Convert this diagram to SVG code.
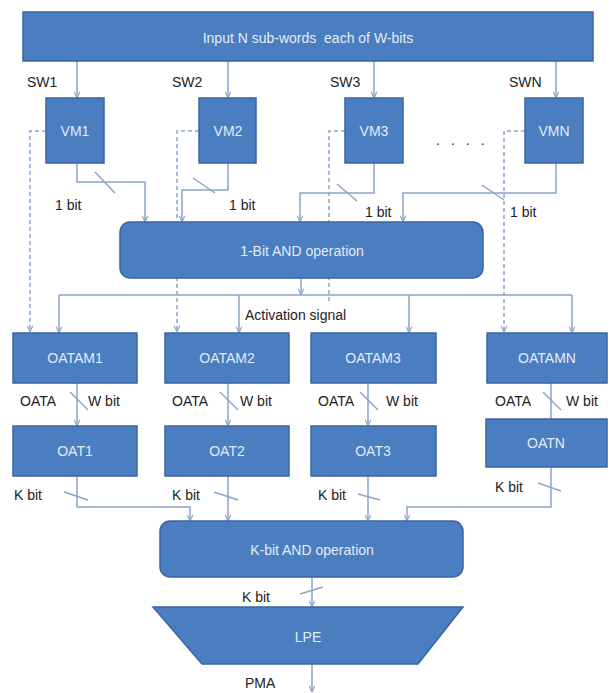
<svg xmlns="http://www.w3.org/2000/svg" width="610" height="693" viewBox="0 0 610 693">
<defs>
<style>
.box{fill:#4A7EC0;stroke:#3B65A0;stroke-width:1.5}
.bt{font-family:"Liberation Sans",Arial,sans-serif;font-size:14px;fill:#E4EBF6;text-anchor:middle}
.lb{font-family:"Liberation Sans",Arial,sans-serif;font-size:14px;fill:#222}
.ln{fill:none;stroke:#8AA5CB;stroke-width:1.5}
.ds{fill:none;stroke:#8AA5CB;stroke-width:1.5;stroke-dasharray:4 3}
.tk{stroke:#8AA5CB;stroke-width:1.5}
</style>
<marker id="ah" viewBox="0 0 10 10" refX="10" refY="5" markerWidth="7" markerHeight="7" orient="auto" markerUnits="userSpaceOnUse">
<path d="M1,1 L10,5 L1,9" fill="none" stroke="#8AA5CB" stroke-width="1.6"/>
</marker>
</defs>
<rect width="610" height="693" fill="#fff"/>

<g id="connectors">
<line class="ln" x1="77" y1="61" x2="77" y2="98" marker-end="url(#ah)"/>
<line class="ln" x1="228" y1="61" x2="228" y2="98" marker-end="url(#ah)"/>
<line class="ln" x1="374" y1="61" x2="374" y2="98" marker-end="url(#ah)"/>
<line class="ln" x1="556" y1="61" x2="556" y2="98" marker-end="url(#ah)"/>
<polyline class="ln" points="77,163 77,182 145,182 145,222" marker-end="url(#ah)"/>
<polyline class="ln" points="228,163 228,190 182,190 182,222" marker-end="url(#ah)"/>
<polyline class="ln" points="374,163 374,193 300,193 300,222" marker-end="url(#ah)"/>
<polyline class="ln" points="556,163 556,193 403,193 403,222" marker-end="url(#ah)"/>
<line class="tk" x1="95" y1="172" x2="115" y2="193"/>
<line class="tk" x1="193" y1="178" x2="215" y2="193"/>
<line class="tk" x1="337" y1="184" x2="357" y2="201"/>
<line class="tk" x1="482" y1="185" x2="504" y2="200"/>
<polyline class="ds" points="46,131 30,131 30,332" marker-end="url(#ah)"/>
<polyline class="ds" points="199,131 177,131 177,332" marker-end="url(#ah)"/>
<polyline class="ds" points="345,131 329,131 329,304"/>
<polyline class="ds" points="525,131 504,131 504,332" marker-end="url(#ah)"/>
<line class="ln" x1="301" y1="278" x2="301" y2="295" marker-end="url(#ah)"/>
<polyline class="ln" points="59,295 572,295"/>
<line class="ln" x1="59" y1="295" x2="59" y2="333" marker-end="url(#ah)"/>
<line class="ln" x1="572" y1="295" x2="572" y2="333" marker-end="url(#ah)"/>
<line class="ln" x1="239" y1="295" x2="239" y2="333" marker-end="url(#ah)"/>
<line class="ln" x1="409" y1="295" x2="409" y2="333" marker-end="url(#ah)"/>
<line class="ln" x1="77" y1="383" x2="77" y2="426" marker-end="url(#ah)"/>
<line class="ln" x1="228" y1="383" x2="228" y2="426" marker-end="url(#ah)"/>
<line class="ln" x1="368" y1="383" x2="368" y2="426" marker-end="url(#ah)"/>
<line class="ln" x1="551" y1="383" x2="551" y2="419"/>
<line class="tk" x1="70" y1="392" x2="88" y2="410"/>
<line class="tk" x1="220" y1="392" x2="238" y2="410"/>
<line class="tk" x1="360" y1="392" x2="378" y2="410"/>
<line class="tk" x1="543" y1="392" x2="561" y2="410"/>
<polyline class="ln" points="77,476 77,507 190,507 190,521" marker-end="url(#ah)"/>
<line class="ln" x1="228" y1="476" x2="228" y2="521" marker-end="url(#ah)"/>
<line class="ln" x1="368" y1="476" x2="368" y2="521" marker-end="url(#ah)"/>
<polyline class="ln" points="551,467 551,507 407,507 407,521" marker-end="url(#ah)"/>
<line class="tk" x1="64" y1="492" x2="88" y2="500"/>
<line class="tk" x1="214" y1="492" x2="238" y2="500"/>
<line class="tk" x1="358" y1="494" x2="380" y2="500"/>
<line class="tk" x1="538" y1="483" x2="561" y2="491"/>
<line class="ln" x1="312" y1="577" x2="312" y2="607" marker-end="url(#ah)"/>
<line class="tk" x1="300" y1="594" x2="323" y2="587"/>
<line class="ln" x1="312" y1="664" x2="312" y2="692" marker-end="url(#ah)"/>
</g>

<g id="input">
<rect class="box" x="23" y="12" width="570" height="49"/>
<text class="bt" x="308" y="43" xml:space="preserve">Input N sub-words  each of W-bits</text>
</g>

<g id="vm1"><rect class="box" x="46" y="98" width="58" height="65"/><text class="bt" x="75" y="136">VM1</text></g>
<g id="vm2"><rect class="box" x="199" y="98" width="57" height="65"/><text class="bt" x="228" y="136">VM2</text></g>
<g id="vm3"><rect class="box" x="345" y="98" width="58" height="65"/><text class="bt" x="374" y="136">VM3</text></g>
<g id="vmn"><rect class="box" x="525" y="98" width="58" height="65"/><text class="bt" x="554" y="136">VMN</text></g>

<g id="and1">
<rect class="box" x="120" y="222" width="363" height="56" rx="10"/>
<text class="bt" x="302" y="256">1-Bit AND operation</text>
</g>

<g id="oatam1"><rect class="box" x="13" y="333" width="124" height="50"/><text class="bt" x="75" y="363">OATAM1</text></g>
<g id="oatam2"><rect class="box" x="165" y="333" width="124" height="50"/><text class="bt" x="227" y="363">OATAM2</text></g>
<g id="oatam3"><rect class="box" x="311" y="333" width="125" height="50"/><text class="bt" x="373" y="363">OATAM3</text></g>
<g id="oatamn"><rect class="box" x="487" y="333" width="120" height="50"/><text class="bt" x="547" y="363">OATAMN</text></g>

<g id="oat1"><rect class="box" x="13" y="426" width="124" height="50"/><text class="bt" x="75" y="456">OAT1</text></g>
<g id="oat2"><rect class="box" x="165" y="426" width="124" height="50"/><text class="bt" x="227" y="456">OAT2</text></g>
<g id="oat3"><rect class="box" x="311" y="426" width="125" height="50"/><text class="bt" x="373" y="456">OAT3</text></g>
<g id="oatn"><rect class="box" x="486" y="419" width="121" height="48"/><text class="bt" x="546" y="448">OATN</text></g>

<g id="andk">
<rect class="box" x="160" y="521" width="303" height="56" rx="10"/>
<text class="bt" x="312" y="555">K-bit AND operation</text>
</g>

<g id="lpe">
<polygon class="box" points="153,607 463,607 418,664 202,664"/>
<text class="bt" x="308" y="642">LPE</text>
</g>

<g id="labels">
<text class="lb" x="27" y="87">SW1</text>
<text class="lb" x="172" y="87">SW2</text>
<text class="lb" x="330" y="87">SW3</text>
<text class="lb" x="509" y="87">SWN</text>
<text class="lb" x="436" y="145" letter-spacing="11">....</text>
<text class="lb" x="55" y="210">1 bit</text>
<text class="lb" x="229" y="210">1 bit</text>
<text class="lb" x="365" y="217">1 bit</text>
<text class="lb" x="510" y="217">1 bit</text>
<text class="lb" x="245" y="320">Activation signal</text>
<text class="lb" x="20" y="406">OATA</text><text class="lb" x="88" y="406">W bit</text>
<text class="lb" x="172" y="406">OATA</text><text class="lb" x="240" y="406">W bit</text>
<text class="lb" x="318" y="406">OATA</text><text class="lb" x="386" y="406">W bit</text>
<text class="lb" x="495" y="406">OATA</text><text class="lb" x="566" y="406">W bit</text>
<text class="lb" x="14" y="500">K bit</text>
<text class="lb" x="172" y="500">K bit</text>
<text class="lb" x="318" y="500">K bit</text>
<text class="lb" x="495" y="492">K bit</text>
<text class="lb" x="242" y="602">K bit</text>
<text class="lb" x="245" y="688">PMA</text>
</g>
</svg>
